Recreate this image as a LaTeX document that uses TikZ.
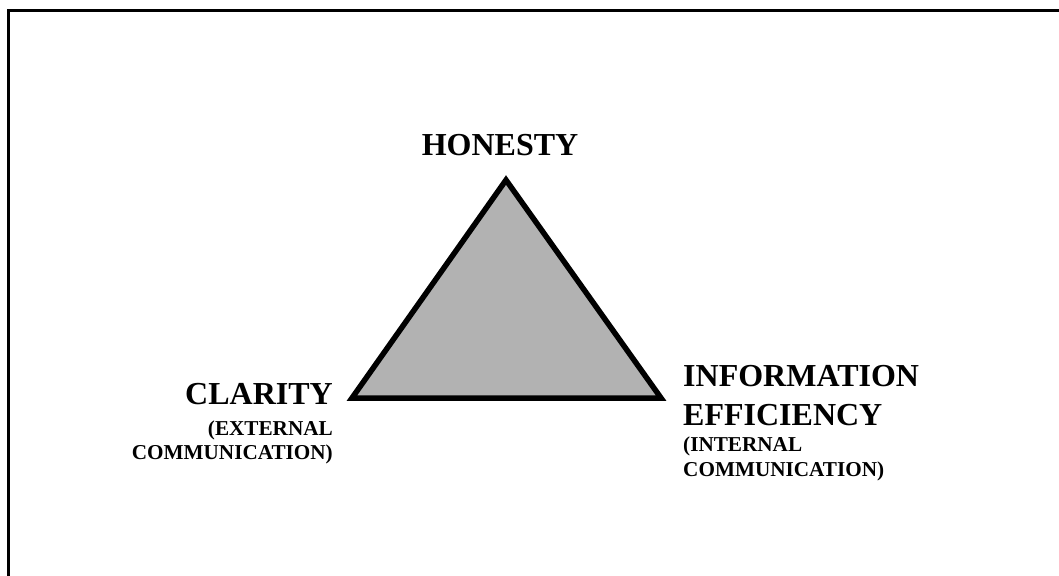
\documentclass[tikz,border=0pt]{standalone}
\usepackage{fontspec}
\setmainfont{Liberation Serif}
\tikzset{
  big/.style={inner sep=0pt, font=\fontsize{32}{36}\selectfont\bfseries},
  small/.style={inner sep=0pt, font=\fontsize{21.2}{24}\selectfont\bfseries},
  frameline/.style={line width=3pt, black},
  tri/.style={line width=5.5pt, draw=black, fill=black!30, line join=miter}
}
\begin{document}
\begin{tikzpicture}[x=1pt,y=-1pt]
\useasboundingbox (0,0) rectangle (1059,575);
\draw[frameline] (8,585) -- (8,11) -- (1070,11);
\coordinate (apex) at (506,180);
\coordinate (bl) at (352,398);
\coordinate (br) at (661,398);
\filldraw[tri] (apex) -- (bl) -- (br) -- cycle;
\node[big, anchor=base] (honesty) at (500,155) {HONESTY};
\node[big, anchor=base east] (clarity) at (333,404) {CLARITY};
\node[small, anchor=base east] (ext1) at (333,435) {(EXTERNAL};
\node[small, anchor=base east] (ext2) at (333,459) {COMMUNICATION)};
\node[big, anchor=base west] (info1) at (683,386) {INFORMATION};
\node[big, anchor=base west] (info2) at (683,425) {EFFICIENCY};
\node[small, anchor=base west] (int1) at (683,451) {(INTERNAL};
\node[small, anchor=base west] (int2) at (683,476) {COMMUNICATION)};
\end{tikzpicture}
\end{document}
